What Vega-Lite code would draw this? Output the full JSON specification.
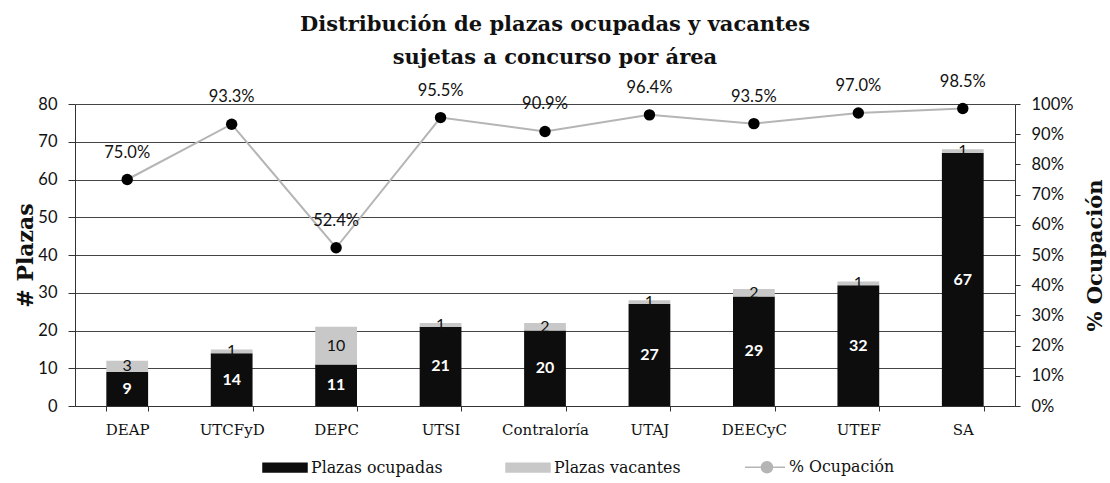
{
  "$schema": "https://vega.github.io/schema/vega-lite/v6.json",
  "autosize": "none",
  "width": 940,
  "height": 302,
  "padding": {"left": 75, "top": 104, "right": 95, "bottom": 77},
  "background": "white",
  "title": {
    "text": ["Distribución de plazas ocupadas y vacantes", "sujetas a concurso por área"],
    "font": "DejaVu Serif",
    "fontSize": 21,
    "fontWeight": "bold",
    "color": "#111",
    "lineHeight": 33,
    "anchor": "middle",
    "dx": 10,
    "offset": 6
  },
  "datasets": {
    "bars": [
      {"area": "DEAP", "tipo": "Plazas ocupadas", "orden": 1, "plazas": 9},
      {"area": "DEAP", "tipo": "Plazas vacantes", "orden": 2, "plazas": 3},
      {"area": "UTCFyD", "tipo": "Plazas ocupadas", "orden": 1, "plazas": 14},
      {"area": "UTCFyD", "tipo": "Plazas vacantes", "orden": 2, "plazas": 1},
      {"area": "DEPC", "tipo": "Plazas ocupadas", "orden": 1, "plazas": 11},
      {"area": "DEPC", "tipo": "Plazas vacantes", "orden": 2, "plazas": 10},
      {"area": "UTSI", "tipo": "Plazas ocupadas", "orden": 1, "plazas": 21},
      {"area": "UTSI", "tipo": "Plazas vacantes", "orden": 2, "plazas": 1},
      {"area": "Contraloría", "tipo": "Plazas ocupadas", "orden": 1, "plazas": 20},
      {"area": "Contraloría", "tipo": "Plazas vacantes", "orden": 2, "plazas": 2},
      {"area": "UTAJ", "tipo": "Plazas ocupadas", "orden": 1, "plazas": 27},
      {"area": "UTAJ", "tipo": "Plazas vacantes", "orden": 2, "plazas": 1},
      {"area": "DEECyC", "tipo": "Plazas ocupadas", "orden": 1, "plazas": 29},
      {"area": "DEECyC", "tipo": "Plazas vacantes", "orden": 2, "plazas": 2},
      {"area": "UTEF", "tipo": "Plazas ocupadas", "orden": 1, "plazas": 32},
      {"area": "UTEF", "tipo": "Plazas vacantes", "orden": 2, "plazas": 1},
      {"area": "SA", "tipo": "Plazas ocupadas", "orden": 1, "plazas": 67},
      {"area": "SA", "tipo": "Plazas vacantes", "orden": 2, "plazas": 1}
    ],
    "pct": [
      {"area": "DEAP", "serie": "% Ocupación", "ocupacion": 0.75},
      {"area": "UTCFyD", "serie": "% Ocupación", "ocupacion": 0.933},
      {"area": "DEPC", "serie": "% Ocupación", "ocupacion": 0.524},
      {"area": "UTSI", "serie": "% Ocupación", "ocupacion": 0.955},
      {"area": "Contraloría", "serie": "% Ocupación", "ocupacion": 0.909},
      {"area": "UTAJ", "serie": "% Ocupación", "ocupacion": 0.964},
      {"area": "DEECyC", "serie": "% Ocupación", "ocupacion": 0.935},
      {"area": "UTEF", "serie": "% Ocupación", "ocupacion": 0.97},
      {"area": "SA", "serie": "% Ocupación", "ocupacion": 0.985}
    ]
  },
  "config": {
    "view": {"stroke": null},
    "axis": {"labelFont": "Lato", "labelFontSize": 16.5, "labelColor": "#111", "titleColor": "#111", "domainColor": "#333", "tickColor": "#333"},
    "legend": {"labelFont": "DejaVu Serif", "labelFontSize": 15.8, "labelColor": "#111"}
  },
  "encoding": {
    "x": {
      "field": "area",
      "type": "nominal",
      "sort": ["DEAP", "UTCFyD", "DEPC", "UTSI", "Contraloría", "UTAJ", "DEECyC", "UTEF", "SA"],
      "scale": {"paddingInner": 0.6, "paddingOuter": 0.3},
      "axis": {
        "title": null,
        "labelAngle": 0,
        "labelFont": "DejaVu Serif",
        "labelFontSize": 15,
        "labelPadding": 11,
        "tickBand": "extent",
        "tickSize": 5,
        "domainColor": "#333"
      }
    }
  },
  "layer": [
    {
      "data": {"name": "bars"},
      "transform": [
        {"stack": "plazas", "groupby": ["area"], "sort": [{"field": "orden"}], "as": ["p0", "p1"]},
        {"calculate": "(datum.p0 + datum.p1) / 2", "as": "pmid"}
      ],
      "layer": [
        {
          "mark": {"type": "bar"},
          "encoding": {
            "y": {
              "field": "p0",
              "type": "quantitative",
              "scale": {"domain": [0, 80]},
              "axis": {
                "title": "# Plazas",
                "titleFont": "DejaVu Serif",
                "titleFontSize": 22,
                "titleFontWeight": "bold",
                "titlePadding": 0,
                "values": [0, 10, 20, 30, 40, 50, 60, 70, 80],
                "tickCount": 20,
                "labelOverlap": false,
                "grid": true,
                "gridColor": "#444",
                "gridWidth": 1,
                "tickSize": 7,
                "labelPadding": 11
              }
            },
            "y2": {"field": "p1"},
            "color": {
              "field": "tipo",
              "type": "nominal",
              "scale": {
                "domain": ["Plazas ocupadas", "Plazas vacantes", "% Ocupación"],
                "range": ["#0d0d0d", "#c8c8c8", "#b5b5b5"]
              },
              "legend": {
                "title": null,
                "orient": "none",
                "legendX": 209,
                "legendY": 351,
                "direction": "horizontal",
                "columnPadding": 60,
                "symbolSize": 484,
                "labelOffset": 3,
                "encode": {
                  "symbols": {
                    "update": {
                      "shape": {"signal": "datum.value === '% Ocupación' ? 'M-2.64,0H-1.14M-0.14,0H1M-0.14,0A0.5,0.5 0 1,1 -1.14,0A0.5,0.5 0 1,1 -0.14,0Z' : 'M-3,-0.4H1V0.4H-3Z'"},
                      "fill": {"signal": "datum.value === '% Ocupación' ? '#000' : scale('color', datum.value)"},
                      "stroke": {"signal": "datum.value === '% Ocupación' ? '#aaa' : scale('color', datum.value)"},
                      "strokeWidth": {"value": 1.5}
                    }
                  }
                }
              }
            }
          }
        },
        {
          "transform": [{"filter": "datum.tipo === 'Plazas ocupadas'"}],
          "mark": {"type": "text", "font": "Lato", "fontSize": 16, "fontWeight": "bold", "color": "white"},
          "encoding": {
            "y": {"field": "pmid", "type": "quantitative"},
            "text": {"field": "plazas", "type": "quantitative"}
          }
        },
        {
          "transform": [{"filter": "datum.tipo === 'Plazas vacantes'"}],
          "mark": {"type": "text", "font": "Lato", "fontSize": 16, "color": "#111"},
          "encoding": {
            "y": {"field": "pmid", "type": "quantitative"},
            "text": {"field": "plazas", "type": "quantitative"}
          }
        }
      ]
    },
    {
      "data": {"name": "pct"},
      "layer": [
        {
          "mark": {"type": "line", "strokeWidth": 2},
          "encoding": {
            "y": {
              "field": "ocupacion",
              "type": "quantitative",
              "scale": {"domain": [0, 1]},
              "axis": {
                "orient": "right",
                "title": "% Ocupación",
                "titleFont": "DejaVu Serif",
                "titleFontSize": 21,
                "titleFontWeight": "bold",
                "titlePadding": 33,
                "titleAngle": 270,
                "format": ".0%",
                "values": [0, 0.1, 0.2, 0.3, 0.4, 0.5, 0.6, 0.7, 0.8, 0.9, 1],
                "tickCount": 20,
                "labelOverlap": false,
                "grid": false,
                "tickSize": 5,
                "labelPadding": 11
              }
            },
            "color": {"field": "serie", "type": "nominal"}
          }
        },
        {
          "mark": {"type": "point", "filled": true, "size": 130, "color": "#000", "opacity": 1},
          "encoding": {
            "y": {"field": "ocupacion", "type": "quantitative"}
          }
        },
        {
          "mark": {"type": "text", "font": "Lato", "fontSize": 16.5, "color": "#111", "dy": -27},
          "encoding": {
            "y": {"field": "ocupacion", "type": "quantitative"},
            "text": {"field": "ocupacion", "type": "quantitative", "format": ".1%"}
          }
        }
      ]
    }
  ],
  "resolve": {"scale": {"y": "independent"}}
}
